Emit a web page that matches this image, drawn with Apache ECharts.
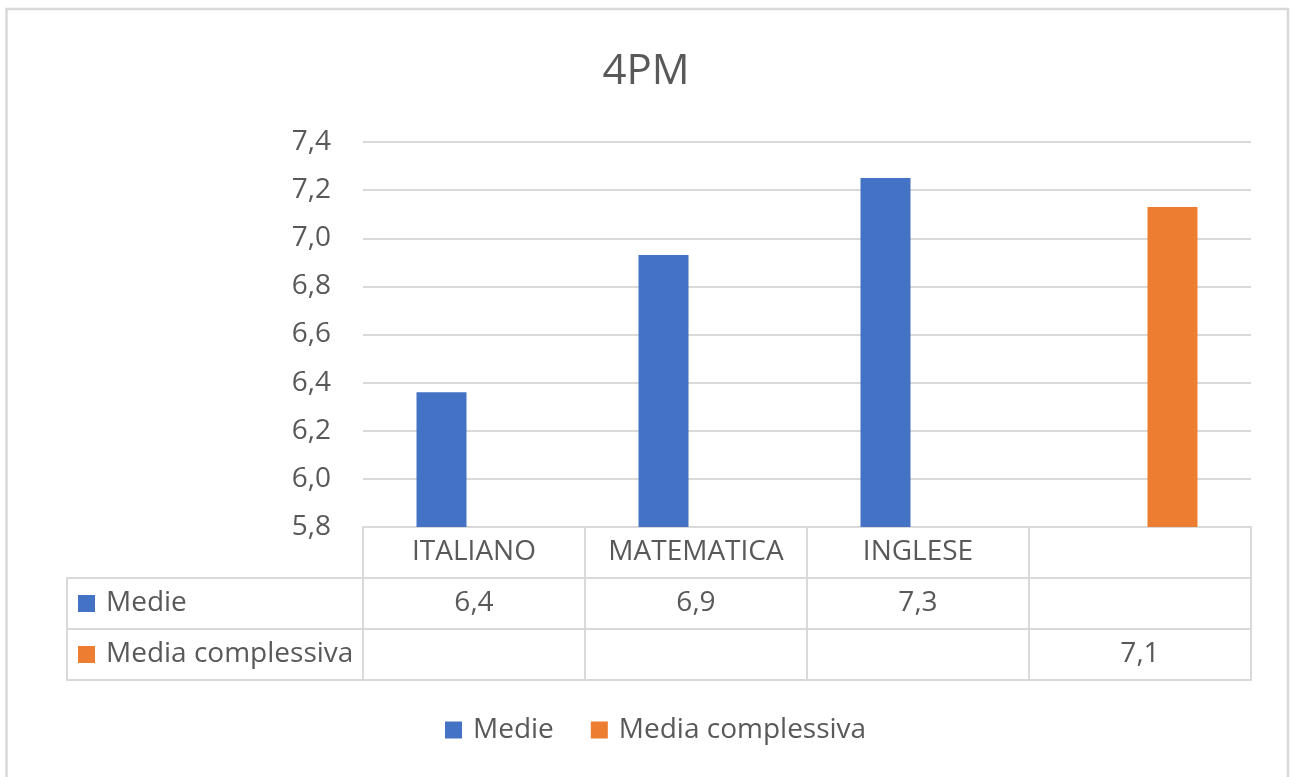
<!DOCTYPE html>
<html><head><meta charset="utf-8">
<script src="https://cdn.jsdelivr.net/npm/echarts@6/dist/echarts.min.js"></script>
<style>html,body{margin:0;padding:0;background:#fff}#c{width:1292px;height:777px}</style>
</head><body><div id="c"></div>
<script>
// ---- data ----
const chartTitle = '4PM';
const categories = ['ITALIANO', 'MATEMATICA', 'INGLESE', ''];
const seriesNames = ['Medie', 'Media complessiva'];
const medie = [6.36, 6.93, 7.25, null];
const mediaComplessiva = [null, null, null, 7.13];
const yMin = 5.8, yMax = 7.4, yStep = 0.2;

// ---- style ----
const FONT = 'Open Sans';
const TXT = '#595959';
const LINE = '#d9d9d9';
const COLORS = ['#4472c4', '#ed7d31'];
const fmt = v => (v == null || v === '-' ? '' : Number(v).toFixed(1).replace('.', ','));

// layout
const L = 363, RIGHT_X = 1251, R = 1292 - RIGHT_X, T = 142, B = 527, ROW = 51;
const LEG_L = 67;

const chart = echarts.init(document.getElementById('c'), null, {renderer: 'canvas'});

// a table row = a bottom category axis sitting on the row's top edge, ticks pointing down
const rowAxis = (gridIndex, formatter, showTicks) => ({
  type: 'category', gridIndex, data: categories, position: 'bottom',
  axisLine: {show: true, lineStyle: {color: LINE, width: 2}},
  axisTick: {show: showTicks, length: ROW, interval: 0, lineStyle: {color: LINE, width: 2}},
  axisLabel: {show: true, interval: 0, margin: ROW / 2, verticalAlign: 'middle',
    fontFamily: FONT, fontSize: 28, color: TXT, formatter},
  splitLine: {show: false}
});

const option = {
  backgroundColor: '#fff',
  animation: false,
  title: {text: chartTitle, left: 'center', top: 46,
    textStyle: {fontFamily: FONT, fontSize: 42, fontWeight: 'normal', color: TXT}},
  color: COLORS,
  legend: [
    {data: [seriesNames[0]], left: 78, top: B + ROW + ROW / 2 - 14, padding: 0, itemWidth: 17, itemHeight: 17,
      icon: 'rect', selectedMode: false,
      textStyle: {fontFamily: FONT, fontSize: 28, color: TXT, padding: [0, 0, 0, 6]}},
    {data: [seriesNames[1]], left: 78, top: B + 2 * ROW + ROW / 2 - 14, padding: 0, itemWidth: 17, itemHeight: 17,
      icon: 'rect', selectedMode: false,
      textStyle: {fontFamily: FONT, fontSize: 28, color: TXT, padding: [0, 0, 0, 6]}},
    {data: seriesNames, left: 445, top: 716, padding: 0, itemWidth: 17, itemHeight: 17, itemGap: 37,
      icon: 'rect', selectedMode: false,
      textStyle: {fontFamily: FONT, fontSize: 28, color: TXT, padding: [0, 0, 0, 6]}}
  ],
  grid: [
    {left: L, right: R, top: T, height: B - T},
    {left: L, right: R, top: B + ROW - 8, height: 8},
    {left: L, right: R, top: B + 2 * ROW - 8, height: 8},
    {left: L, right: R, top: B + 3 * ROW - 8, height: 8}
  ],
  xAxis: [
    rowAxis(0, null, true),
    rowAxis(1, (val, idx) => fmt(medie[idx]), true),
    rowAxis(2, (val, idx) => fmt(mediaComplessiva[idx]), true),
    rowAxis(3, () => '', false)
  ],
  yAxis: [
    {type: 'value', gridIndex: 0, min: yMin, max: yMax, interval: yStep,
      axisLine: {show: false}, axisTick: {show: false},
      axisLabel: {margin: 32, fontFamily: FONT, fontSize: 28, color: TXT,
        formatter: v => v.toFixed(1).replace('.', ',')},
      splitLine: {show: true, lineStyle: {color: LINE, width: 2}}},
    {type: 'value', gridIndex: 1, show: false, min: 0, max: 1},
    {type: 'value', gridIndex: 2, show: false, min: 0, max: 1},
    {type: 'value', gridIndex: 3, show: false, min: 0, max: 1}
  ],
  series: [
    {name: seriesNames[0], type: 'bar', xAxisIndex: 0, yAxisIndex: 0, data: medie,
      barWidth: 50, barGap: '30%', itemStyle: {color: COLORS[0]}},
    {name: seriesNames[1], type: 'bar', xAxisIndex: 0, yAxisIndex: 0, data: mediaComplessiva,
      barWidth: 50, barGap: '30%', itemStyle: {color: COLORS[1]}}
  ],
  graphic: [
    {type: 'rect', silent: true, z: -10,
      shape: {x: 6.5, y: 9, width: 1281.5, height: 800},
      style: {fill: 'none', stroke: LINE, lineWidth: 2.5}},
    {type: 'rect', silent: true,
      shape: {x: LEG_L, y: B + ROW, width: L - LEG_L, height: 2 * ROW},
      style: {fill: 'none', stroke: LINE, lineWidth: 2}},
    {type: 'line', silent: true,
      shape: {x1: LEG_L, y1: B + 2 * ROW, x2: L, y2: B + 2 * ROW},
      style: {stroke: LINE, lineWidth: 2}}
  ]
};
chart.setOption(option);
</script></body></html>
